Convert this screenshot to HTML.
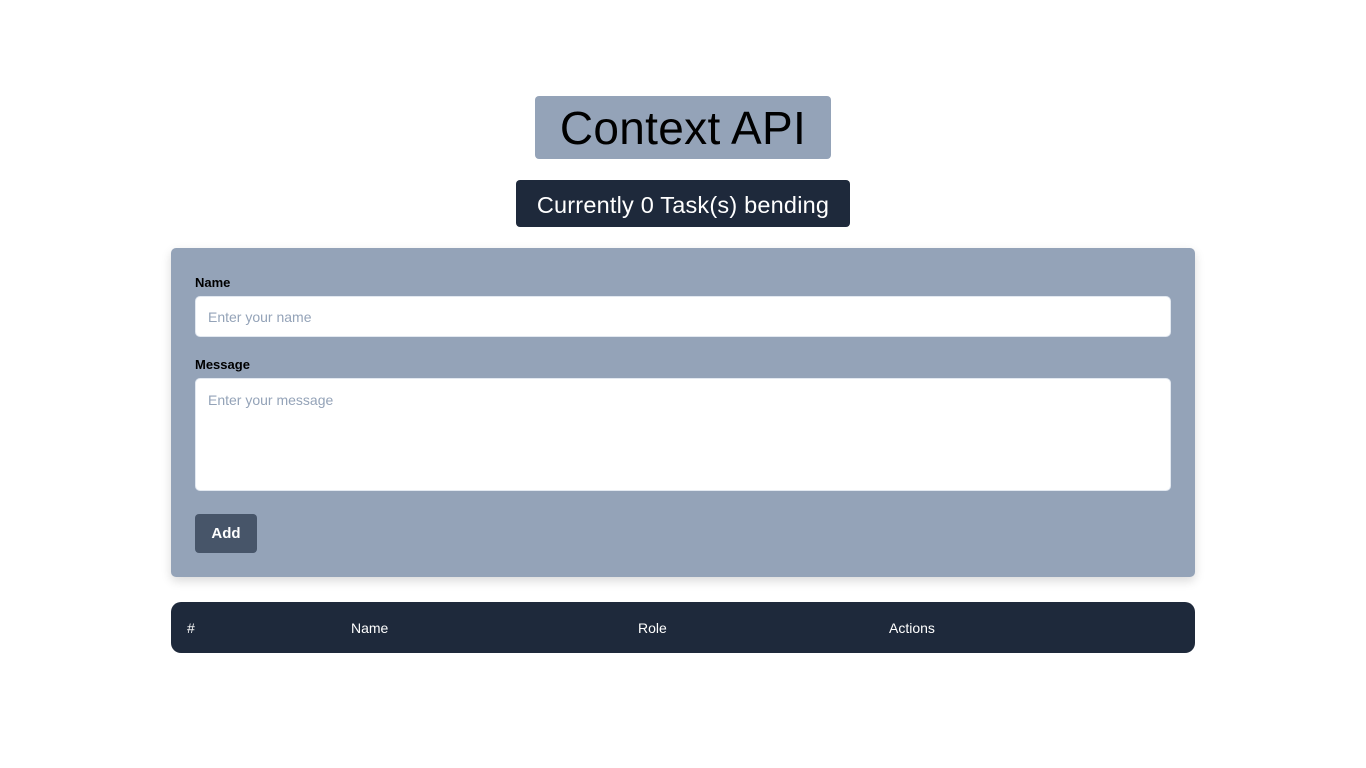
<!DOCTYPE html>
<html><head><meta charset="utf-8"><style>
*{box-sizing:border-box;margin:0;padding:0}
body{width:1366px;height:768px;background:#fff;font-family:"Liberation Sans",sans-serif;position:relative;overflow:hidden}
.a{position:absolute}
</style></head><body>
<div class="a" style="left:535px;top:96px;width:296px;height:63px;background:#94a3b8;border-radius:4px;text-align:center;font-size:46px;line-height:64px;color:#000;letter-spacing:0.3px">Context API</div>
<div class="a" style="left:516px;top:180px;width:334px;height:47px;background:#1e293b;border-radius:4px;text-align:center;font-size:23.5px;line-height:50px;color:#fff;letter-spacing:0.2px">Currently 0 Task(s) bending</div>
<div class="a" style="left:171px;top:248px;width:1024px;height:329px;background:#94a3b8;border-radius:5px;box-shadow:0 4px 10px rgba(0,0,0,0.15)"></div>
<div class="a" style="left:195px;top:275px;font-size:13px;font-weight:bold;color:#000">Name</div>
<div class="a" style="left:195px;top:296px;width:976px;height:41px;background:#fff;border-radius:5px;border:1px solid #e2e8f0;font-size:14px;color:#94a3b8;padding:12px 12px">Enter your name</div>
<div class="a" style="left:195px;top:357px;font-size:13px;font-weight:bold;color:#000">Message</div>
<div class="a" style="left:195px;top:378px;width:976px;height:113px;background:#fff;border-radius:5px;border:1px solid #e2e8f0;font-size:14px;color:#94a3b8;padding:13px 12px">Enter your message</div>
<div class="a" style="left:195px;top:514px;width:62px;height:39px;background:#475569;border-radius:4px;color:#fff;font-weight:bold;font-size:15px;text-align:center;line-height:40px">Add</div>
<div class="a" style="left:171px;top:602px;width:1024px;height:51px;background:#1e293b;border-radius:10px;color:#fff;font-size:14px">
<span class="a" style="left:16px;top:18px">#</span>
<span class="a" style="left:180px;top:18px">Name</span>
<span class="a" style="left:467px;top:18px">Role</span>
<span class="a" style="left:718px;top:18px">Actions</span>
</div>
</body></html>
